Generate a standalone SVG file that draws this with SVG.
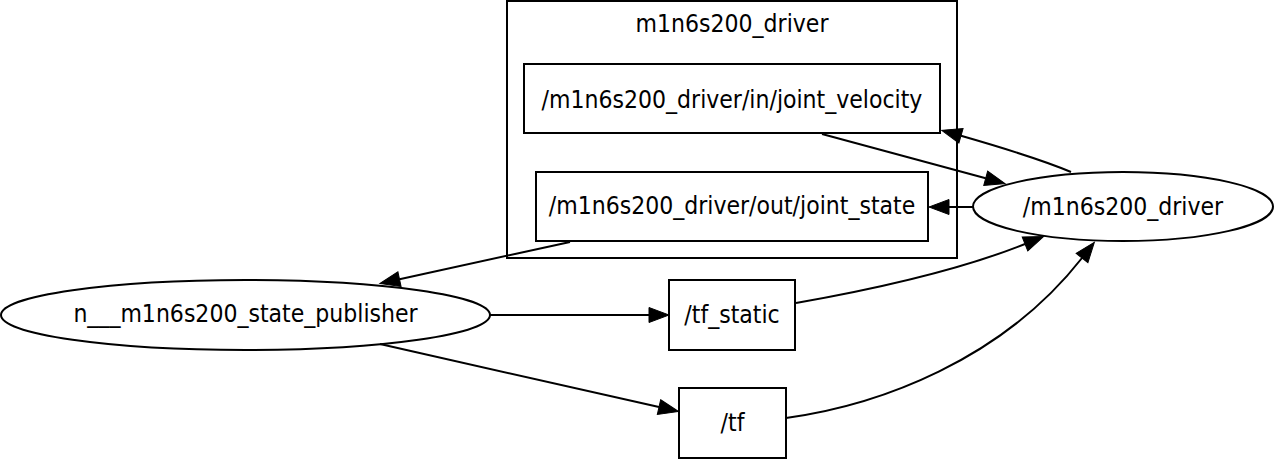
<svg xmlns="http://www.w3.org/2000/svg" width="1275" height="459" viewBox="0 0 1275 459">
<style>
text{font-family:"DejaVu Sans Condensed","DejaVu Sans","Liberation Sans",sans-serif;font-stretch:condensed;font-size:24.5px;fill:#000;text-anchor:middle}
.shape{fill:none;stroke:#000;stroke-width:2}
.edge{fill:none;stroke:#000;stroke-width:2}
</style>
<defs>
<marker id="arr" markerUnits="userSpaceOnUse" markerWidth="22" markerHeight="16" refX="0" refY="7.5" orient="auto" overflow="visible">
<path d="M0,0 L20,7.5 L0,15 z" fill="#000" stroke="#000" stroke-width="1"/>
</marker>
</defs>
<rect width="1275" height="459" fill="#fff"/>
<g id="cluster_m1n6s200_driver">
<rect class="shape" x="507" y="1" width="450" height="257"/>
<text x="732" y="32">m1n6s200_driver</text>
</g>
<g id="node_joint_velocity">
<rect class="shape" x="524" y="64" width="416" height="69"/>
<text x="732" y="108">/m1n6s200_driver/in/joint_velocity</text>
</g>
<g id="node_joint_state">
<rect class="shape" x="536" y="172" width="392" height="69"/>
<text x="732" y="214">/m1n6s200_driver/out/joint_state</text>
</g>
<g id="node_driver">
<ellipse class="shape" cx="1123" cy="206.5" rx="150" ry="34.5"/>
<text x="1123" y="215">/m1n6s200_driver</text>
</g>
<g id="node_state_publisher">
<ellipse class="shape" cx="245.5" cy="315" rx="244.5" ry="35"/>
<text x="245.5" y="322">n___m1n6s200_state_publisher</text>
</g>
<g id="node_tf_static">
<rect class="shape" x="669" y="280" width="126" height="70"/>
<text x="732" y="323">/tf_static</text>
</g>
<g id="node_tf">
<rect class="shape" x="679" y="388" width="107" height="70"/>
<text x="732.5" y="431">/tf</text>
</g>
<g id="connectors">
<path class="edge" marker-end="url(#arr)" d="M822,134 L985.7,178.3"/>
<path class="edge" marker-end="url(#arr)" d="M1071,172 C1040,159 1000,147 961,135.8"/>
<path class="edge" marker-end="url(#arr)" d="M973,207 L949,207"/>
<path class="edge" marker-end="url(#arr)" d="M570,242 L399.5,279.2"/>
<path class="edge" marker-end="url(#arr)" d="M490,315 L649,315"/>
<path class="edge" marker-end="url(#arr)" d="M380,344 L659,407.1"/>
<path class="edge" marker-end="url(#arr)" d="M796,303 C870,290 960,270 1025,244"/>
<path class="edge" marker-end="url(#arr)" d="M786,418 C880,405 1002,360 1082,258"/>
</g>
</svg>
